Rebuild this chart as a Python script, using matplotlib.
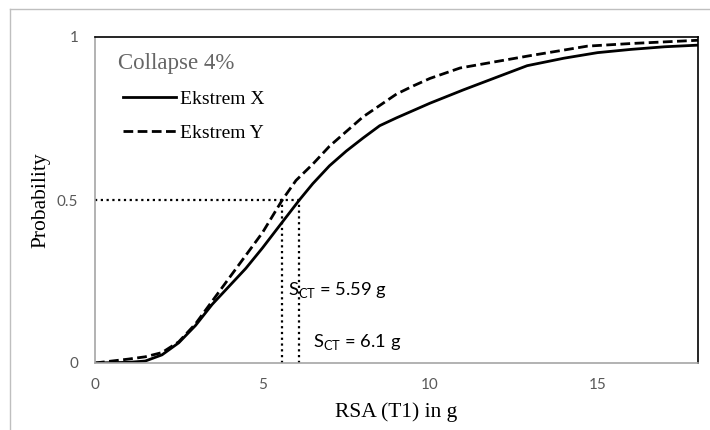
import matplotlib
matplotlib.use("Agg")
import matplotlib.pyplot as plt
from matplotlib.lines import Line2D

# Data
x_ekstrem_x = [0, 0.5, 1.0, 1.5, 2.0, 2.5, 3.0, 3.5, 4.0, 4.5, 5.0, 5.5, 6.1, 6.5, 7.0,
               7.5, 8.0, 8.5, 9.0, 10.0, 11.0, 12.0, 12.9, 14.0, 15.0, 16.0, 17.0, 18.0]
y_ekstrem_x = [0, 0.001, 0.002, 0.006, 0.025, 0.062, 0.115, 0.18, 0.235, 0.29, 0.353, 0.42, 0.50, 0.55, 0.605,
               0.65, 0.69, 0.728, 0.752, 0.797, 0.838, 0.877, 0.912, 0.935, 0.952, 0.962, 0.970, 0.975]

x_ekstrem_y = [0, 0.5, 1.0, 1.5, 2.0, 2.5, 3.0, 3.5, 4.0, 4.5, 5.0, 5.59, 6.0, 6.5, 7.0, 7.5,
               8.0, 8.5, 9.0, 9.5, 10.0, 10.9, 12.0, 13.0, 14.0, 14.7, 16.0, 17.0, 18.0]
y_ekstrem_y = [0, 0.006, 0.012, 0.019, 0.032, 0.065, 0.12, 0.19, 0.26, 0.33, 0.40, 0.50, 0.56, 0.61, 0.665, 0.71,
               0.755, 0.79, 0.825, 0.85, 0.873, 0.905, 0.925, 0.943, 0.96, 0.972, 0.98, 0.985, 0.99]

sct_x = 6.1
sct_y = 5.59
p_half = 0.5

x_ticks = [0, 5, 10, 15]
y_ticks = [0, 0.5, 1]
y_ticklabels = ["0", "0.5", "1"]

serif = "Liberation Serif"
sans = "Lato"

W, H = 710, 430
fig = plt.figure(figsize=(W / 100, H / 100), dpi=100)
ax = fig.add_axes([95 / W, 1 - 363 / H, (698 - 95) / W, (363 - 37) / H])

ax.plot(x_ekstrem_x, y_ekstrem_x, color="black", lw=2.0, label="Ekstrem X",
        solid_joinstyle="round")
ax.plot(x_ekstrem_y, y_ekstrem_y, color="black", lw=2.0, linestyle=(0, (3.5, 1.6)),
        label="Ekstrem Y")

dot = (0, (1, 1.6))
ax.plot([0, sct_x], [p_half, p_half], color="black", lw=1.6, linestyle=dot)
ax.plot([sct_y, sct_y], [0, p_half], color="black", lw=1.6, linestyle=dot)
ax.plot([sct_x, sct_x], [0, p_half], color="black", lw=1.6, linestyle=dot)

ax.text(5.76, 0.224, r"S$_{\mathregular{CT}}$ = 5.59 g", fontsize=13.2, family=sans,
        va="center", ha="left")
ax.text(6.51, 0.064, r"S$_{\mathregular{CT}}$ = 6.1 g", fontsize=13.2, family=sans,
        va="center", ha="left")

ax.set_xlim(0, 18)
ax.set_ylim(0, 1)
ax.set_xticks(x_ticks)
ax.set_yticks(y_ticks)
ax.set_yticklabels(y_ticklabels)
ax.tick_params(length=0, labelsize=11, labelcolor="#595959")
ax.tick_params(axis="x", pad=11)
ax.tick_params(axis="y", pad=12)
for lab in ax.get_xticklabels() + ax.get_yticklabels():
    lab.set_family(sans)

for s in ["left", "bottom"]:
    ax.spines[s].set_color("#A6A6A6")
    ax.spines[s].set_linewidth(1.2)
for s in ["top", "right"]:
    ax.spines[s].set_color("black")
    ax.spines[s].set_linewidth(1.2)

ax.set_xlabel("RSA (T1) in g", fontsize=15.5, family=serif, labelpad=7)
ax.set_ylabel("Probability", fontsize=15.5, family=serif, labelpad=5)

# title of the legend block
fig.text(118 / W, 1 - 63 / H, "Collapse 4%", fontsize=16.5, family=serif,
         color="#666666", va="center", ha="left")

leg = ax.legend(loc="center left", bbox_to_anchor=(123 / W, 1 - 116 / H),
                bbox_transform=fig.transFigure, frameon=False,
                prop={"family": serif, "size": 14}, handlelength=2.7,
                handletextpad=0.25, labelspacing=0.86, borderaxespad=0.0,
                borderpad=0.0)

# outer chart border (light gray)
fig.add_artist(Line2D([10 / W, 1], [1 - 9 / H, 1 - 9 / H], transform=fig.transFigure,
                      color="#BFBFBF", lw=1.0))
fig.add_artist(Line2D([10 / W, 10 / W], [0, 1 - 9 / H], transform=fig.transFigure,
                      color="#BFBFBF", lw=1.0))

fig.savefig("out.png", dpi=100, facecolor="white")
